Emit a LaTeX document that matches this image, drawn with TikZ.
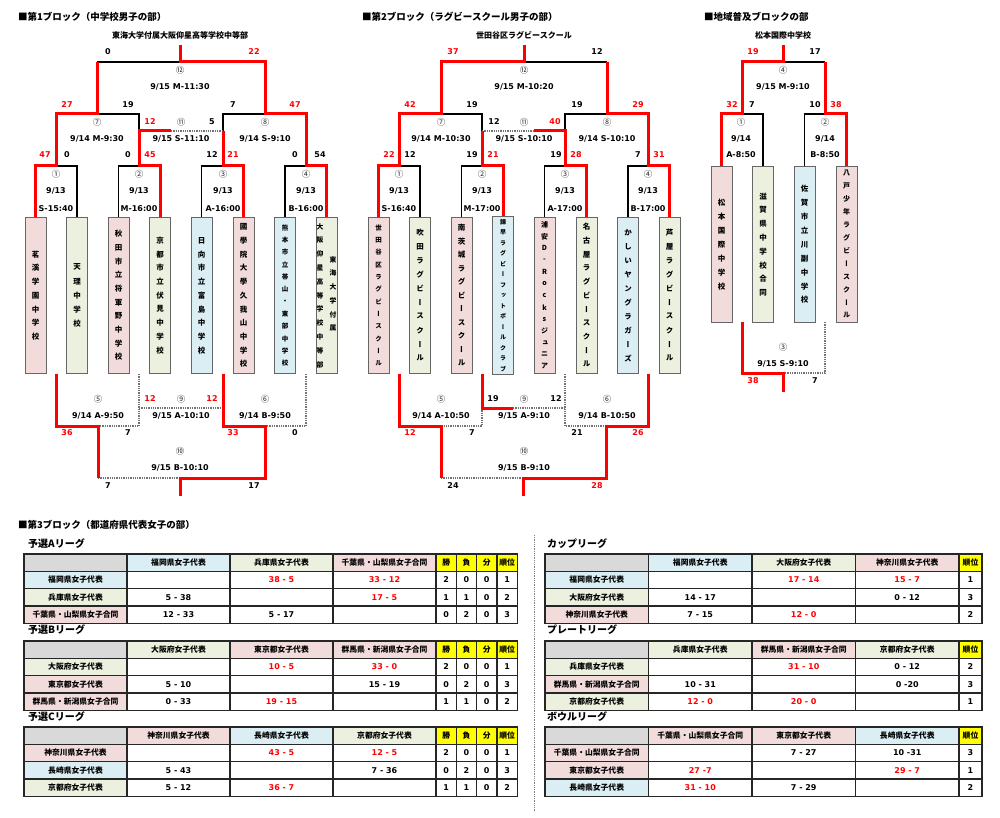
\documentclass[tikz,border=0pt]{standalone}
\usepackage{fontspec}
\setmainfont{DejaVu Sans}
\newfontfamily\jp{Noto Sans CJK JP}
\newfontfamily\jpv{Noto Sans CJK JP}[RawFeature=+vert]

\definecolor{tpink}{HTML}{F2DCDB}
\definecolor{tgreen}{HTML}{EBF1DE}
\definecolor{tblue}{HTML}{DAEEF3}
\definecolor{tgray}{HTML}{D9D9D9}
\definecolor{tyell}{HTML}{FFFF00}
\definecolor{wred}{HTML}{FF0000}

% vertical (tategaki) stack of characters
\ExplSyntaxOn
\NewDocumentCommand \vt { O{13.7pt} m }
  {
    \vbox:n
      {
        \offinterlineskip
        \tl_map_inline:nn {#2}
          {
            \hbox_to_wd:nn { 1.1em }
              { \hss \vbox_to_ht:nn {#1} { \vss \hbox:n {##1} \vss } \hss }
          }
      }
  }
\ExplSyntaxOff

\newcommand\pts[1]{{\normalfont\bfseries\fontsize{8}{9}\selectfont #1}}
\newcommand\rpts[1]{{\normalfont\bfseries\fontsize{8}{9}\selectfont\color{wred}#1}}

\tikzset{
  win/.style={draw=wred, line width=3pt, line join=miter},
  lose/.style={draw=black, line width=1.3pt},
  tie/.style={draw=black!55, line width=1.3pt, densely dotted},
  team/.style={draw=black!60, line width=1pt, minimum width=21pt, minimum height=155pt,
    inner sep=0pt, font=\jpv\bfseries\fontsize{7.5}{8}\selectfont},
  sco/.style={font=\bfseries\fontsize{8}{9}\selectfont, inner sep=0pt},
  mno/.style={font=\jp\fontsize{8.5}{9}\selectfont, inner sep=0pt, text=black!85},
  winner/.style={font=\jp\bfseries\fontsize{8}{9}\selectfont, inner sep=0pt},
  secttl/.style={font=\jp\bfseries\fontsize{9.5}{11}\selectfont, inner sep=0pt, anchor=west},
  lgttl/.style={font=\jp\bfseries\fontsize{10}{11}\selectfont, inner sep=0pt, anchor=west},
  tbox/.style={draw=black!85, line width=1.2pt},
  ctext/.style={font=\jp\bfseries\fontsize{7.8}{9}\selectfont, inner sep=0pt},
}

% one table cell: x, y, width, height, fill, text
\newcommand\tcell[6]{%
  \draw[tbox, fill=#5] (#1,#2) rectangle ++(#3,#4);
  \node[ctext] at ({#1+#3/2},{#2+#4/2}) {#6};}

% league with wins/losses/draws/rank
\newcommand\lgleft[5]{%
  \begin{scope}[shift={(24,#1)}]
    \tcell{0}{0}{103}{17.3}{tgray}{}
    \foreach \n/\f [count=\k] in {#2,#3,#4} {\tcell{103*\k}{0}{103}{17.3}{\f}{\n}}
    \foreach \n [count=\k from 0] in {勝,負,分,順位} {\tcell{412+20.3*\k}{0}{20.3}{17.3}{tyell}{\n}}
    \foreach \n/\f/\va/\vb/\vc/\nw/\nl/\nd/\nr [count=\j] in {#5} {
      \tcell{0}{17.3*\j}{103}{17.3}{\f}{\n}
      \tcell{103}{17.3*\j}{103}{17.3}{white}{\va}
      \tcell{206}{17.3*\j}{103}{17.3}{white}{\vb}
      \tcell{309}{17.3*\j}{103}{17.3}{white}{\vc}
      \foreach \v [count=\k from 0] in {\nw,\nl,\nd,\nr}
        {\tcell{412+20.3*\k}{17.3*\j}{20.3}{17.3}{white}{\pts{\v}}}
    }
  \end{scope}}

% league with rank only
\newcommand\lgright[5]{%
  \begin{scope}[shift={(545,#1)}]
    \tcell{0}{0}{103.5}{17.3}{tgray}{}
    \foreach \n/\f [count=\k] in {#2,#3,#4} {\tcell{103.5*\k}{0}{103.5}{17.3}{\f}{\n}}
    \tcell{414}{0}{23}{17.3}{tyell}{順位}
    \foreach \n/\f/\va/\vb/\vc/\nr [count=\j] in {#5} {
      \tcell{0}{17.3*\j}{103.5}{17.3}{\f}{\n}
      \tcell{103.5}{17.3*\j}{103.5}{17.3}{white}{\va}
      \tcell{207}{17.3*\j}{103.5}{17.3}{white}{\vb}
      \tcell{310.5}{17.3*\j}{103.5}{17.3}{white}{\vc}
      \tcell{414}{17.3*\j}{23}{17.3}{white}{\pts{\nr}}
    }
  \end{scope}}

\begin{document}
\begin{tikzpicture}[x=1pt,y=-1pt]
  \fill[white] (0,0) rectangle (1000,818);
  \useasboundingbox (0,0) rectangle (1000,818);

  % section titles
  \node[secttl] (h1) at (18,17) {■第1ブロック（中学校男子の部）};
  \node[secttl] (h2) at (362,17) {■第2ブロック（ラグビースクール男子の部）};
  \node[secttl] (h3) at (704,17) {■地域普及ブロックの部};
  \node[secttl] (h4) at (18,525) {■第3ブロック（都道府県代表女子の部）};

  \node[winner] (w1) at (180,35) {東海大学付属大阪仰星高等学校中等部};
  \node[winner] (w2) at (524,35) {世田谷区ラグビースクール};
  \node[winner] (w3) at (783,35) {松本国際中学校};

  % block 1
  \draw[lose] (77,218)--(77,166)--(56,166);
  \draw[lose] (118.5,218)--(118.5,166)--(139,166);
  \draw[lose] (201.5,218)--(201.5,166)--(223,166);
  \draw[lose] (285,218)--(285,166)--(306,166);
  \draw[lose] (97,114)--(139,114)--(139,131);
  \draw[lose] (223,131)--(223,114)--(265,114);
  \draw[lose] (97,62)--(180,62);
  \draw[tie] (171,131)--(223,131);
  \draw[win] (35.5,218)--(35.5,166)--(56,166)--(56,114)--(97,114)--(97,62);
  \draw[win] (160,218)--(160,166)--(139,166)--(139,131)--(171,131);
  \draw[win] (243.5,218)--(243.5,166)--(223,166)--(223,131);
  \draw[win] (326.5,218)--(326.5,166)--(306,166)--(306,114)--(265,114)--(265,62)--(180,62)--(180,45);
  \draw[tie] (139,374)--(139,426)--(98,426);
  \draw[tie] (306,374)--(306,426)--(265,426);
  \draw[tie] (139,408)--(223,408);
  \draw[tie] (98,478)--(180,478);
  \draw[win] (56,374)--(56,426)--(98,426)--(98,478);
  \draw[win] (223,374)--(223,426)--(265,426)--(265,478)--(180,478)--(180,496);

  % block 2
  \draw[lose] (420,218)--(420,166)--(399,166);
  \draw[lose] (461.5,218)--(461.5,166)--(482,166);
  \draw[lose] (544.5,218)--(544.5,166)--(565,166);
  \draw[lose] (628,218)--(628,166)--(648,166);
  \draw[lose] (441,114)--(482,114)--(482,131);
  \draw[lose] (565,131)--(565,114)--(607,114);
  \draw[lose] (524,62)--(607,62);
  \draw[tie] (482,131)--(534,131);
  \draw[win] (378.5,218)--(378.5,166)--(399,166)--(399,114)--(441,114)--(441,62)--(524,62)--(524,45);
  \draw[win] (503,218)--(503,166)--(482,166)--(482,131);
  \draw[win] (586.5,218)--(586.5,166)--(565,166)--(565,131)--(534,131);
  \draw[win] (669.5,218)--(669.5,166)--(648,166)--(648,114)--(607,114)--(607,62);
  \draw[tie] (482,408)--(482,426)--(441,426);
  \draw[tie] (565,374)--(565,426)--(606,426);
  \draw[tie] (513,408)--(565,408);
  \draw[tie] (441,478)--(523,478);
  \draw[win] (399,374)--(399,426)--(441,426)--(441,478);
  \draw[win] (482,374)--(482,408)--(513,408);
  \draw[win] (648,374)--(648,426)--(606,426)--(606,478)--(523,478)--(523,496);

  % block 3
  \draw[lose] (763,167)--(763,114)--(742,114);
  \draw[lose] (804.5,167)--(804.5,114)--(825,114);
  \draw[lose] (783,62)--(825,62);
  \draw[tie] (825,322)--(825,373)--(783,373);
  \draw[win] (721.5,167)--(721.5,114)--(742,114)--(742,62)--(783,62)--(783,45);
  \draw[win] (846.5,167)--(846.5,114)--(825,114)--(825,62);
  \draw[win] (742,322)--(742,373)--(783,373)--(783,392);

  % teams
  \node[team, fill=tpink] (a1) at (35.5,295.5) {\vt{茗溪学園中学校}};
  \node[team, fill=tgreen] (a2) at (77,295.5) {\vt[14.2pt]{天理中学校}};
  \node[team, fill=tpink] (a3) at (118.5,295.5) {\vt{秋田市立将軍野中学校}};
  \node[team, fill=tgreen] (a4) at (160,295.5) {\vt{京都市立伏見中学校}};
  \node[team, fill=tblue] (a5) at (201.5,295.5) {\vt{日向市立富島中学校}};
  \node[team, fill=tpink] (a6) at (243.5,295.5) {\vt{國學院大學久我山中学校}};
  \node[team, fill=tblue, font=\jpv\bfseries\fontsize{6.5}{7}\selectfont] (a7) at (285,295.5) {\vt[12.3pt]{熊本市立帯山・東部中学校}};
  \node[team, fill=tgreen] (a8) at (326.5,295.5) {};
  \node[font=\jpv\bfseries\fontsize{6.8}{7}\selectfont, inner sep=0pt] (a8l) at (320,295.5) {\vt[13.8pt]{大阪仰星高等学校中等部}};
  \node[font=\jpv\bfseries\fontsize{6.8}{7}\selectfont, inner sep=0pt] (a8r) at (333,294) {\vt[13.8pt]{東海大学付属}};

  \node[team, fill=tpink, font=\jpv\bfseries\fontsize{6.5}{7}\selectfont] (b1) at (378.5,295.5) {\vt[12.3pt]{世田谷区ラグビースクール}};
  \node[team, fill=tgreen] (b2) at (420,295.5) {\vt[13.9pt]{吹田ラグビースクール}};
  \node[team, fill=tpink] (b3) at (461.5,295.5) {\vt[13.5pt]{南茨城ラグビースクール}};
  \node[team, fill=tblue, font=\jpv\bfseries\fontsize{6}{7}\selectfont] (b4) at (503,295.5) {\vt[10.5pt]{諫早ラグビーフットボールクラブ}};
  \node[team, fill=tpink, font=\jpv\bfseries\fontsize{7}{7}\selectfont] (b5) at (544.5,295.5) {\vt[11.8pt]{浦安D-Rocksジュニア}};
  \node[team, fill=tgreen] (b6) at (586.5,295.5) {\vt{名古屋ラグビースクール}};
  \node[team, fill=tblue] (b7) at (628,295.5) {\vt[13.9pt]{かしいヤングラガーズ}};
  \node[team, fill=tgreen] (b8) at (669.5,295.5) {\vt[13.9pt]{芦屋ラグビースクール}};

  \node[team, fill=tpink] (c1) at (721.5,244.5) {\vt[13.9pt]{松本国際中学校}};
  \node[team, fill=tgreen] (c2) at (763,244.5) {\vt[13.8pt]{滋賀県中学校合同}};
  \node[team, fill=tblue] (c3) at (804.5,244.5) {\vt[13.9pt]{佐賀市立川副中学校}};
  \node[team, fill=tpink, font=\jpv\bfseries\fontsize{7}{7}\selectfont] (c4) at (846.5,244.5) {\vt[12.9pt]{八戸少年ラグビースクール}};

  % scores
  \foreach \x/\y/\s/\col [count=\i] in {
      108/52/0/black, 254/52/22/wred, 67/105/27/wred, 128/105/19/black, 233/105/7/black, 295/105/47/wred,
      150/122/12/wred, 212/122/5/black,
      45/155/47/wred, 67/155/0/black, 128/155/0/black, 150/155/45/wred,
      212/155/12/black, 233/155/21/wred, 295/155/0/black, 320/155/54/black,
      150/399/12/wred, 212/399/12/wred, 67/433/36/wred, 128/433/7/black, 233/433/33/wred, 295/433/0/black,
      108/486/7/black, 254/486/17/black,
      453/52/37/wred, 597/52/12/black, 410/105/42/wred, 472/105/19/black, 577/105/19/black, 638/105/29/wred,
      494/122/12/black, 555/122/40/wred,
      389/155/22/wred, 410/155/12/black, 472/155/19/black, 493/155/21/wred,
      556/155/19/black, 576/155/28/wred, 638/155/7/black, 659/155/31/wred,
      493/399/19/black, 556/399/12/black, 410/433/12/wred, 472/433/7/black, 577/433/21/black, 638/433/26/wred,
      453/486/24/black, 597/486/28/wred,
      753/52/19/wred, 815/52/17/black, 732/105/32/wred, 752/105/7/black, 815/105/10/black, 836/105/38/wred,
      753/381/38/wred, 815/381/7/black}
    \node[sco, text=\col] (sc\i) at (\x,\y) {\s};

  % match numbers
  \foreach \x/\y/\m [count=\i] in {
      180/70/⑫, 97/122/⑦, 265/122/⑧, 181/122/⑪, 56/174/①, 139/174/②, 223/174/③, 306/174/④,
      98/399/⑤, 181/399/⑨, 265/399/⑥, 180/451/⑩,
      524/70/⑫, 441/122/⑦, 607/122/⑧, 524/122/⑪, 399/174/①, 482/174/②, 565/174/③, 648/174/④,
      441/399/⑤, 524/399/⑨, 607/399/⑥, 524/451/⑩,
      783/70/④, 741/122/①, 825/122/②, 783/347/③}
    \node[mno] (mn\i) at (\x,\y) {\m};

  % dates and kick-off times
  \foreach \x/\y/\lab [count=\i] in {
      180/87/{9/15 M-11:30}, 97/139/{9/14 M-9:30}, 265/139/{9/14 S-9:10}, 181/139/{9/15 S-11:10},
      56/191/{9/13}, 56/209/{S-15:40}, 139/191/{9/13}, 139/209/{M-16:00},
      223/191/{9/13}, 223/209/{A-16:00}, 306/191/{9/13}, 306/209/{B-16:00},
      98/416/{9/14 A-9:50}, 181/416/{9/15 A-10:10}, 265/416/{9/14 B-9:50}, 180/468/{9/15 B-10:10},
      524/87/{9/15 M-10:20}, 441/139/{9/14 M-10:30}, 607/139/{9/14 S-10:10}, 524/139/{9/15 S-10:10},
      399/191/{9/13}, 399/209/{S-16:40}, 482/191/{9/13}, 482/209/{M-17:00},
      565/191/{9/13}, 565/209/{A-17:00}, 648/191/{9/13}, 648/209/{B-17:00},
      441/416/{9/14 A-10:50}, 524/416/{9/15 A-9:10}, 607/416/{9/14 B-10:50}, 524/468/{9/15 B-9:10},
      783/87/{9/15 M-9:10}, 741/139/{9/14}, 741/155/{A-8:50}, 825/139/{9/14}, 825/155/{B-8:50},
      783/364/{9/15 S-9:10}}
    \node[sco] (tm\i) at (\x,\y) {\lab};

  % block 3 leagues
  \draw[black!50, densely dotted, line width=0.8pt] (534,535) -- (534,812);
  \node[lgttl] (la) at (28,544) {予選Aリーグ};
  \node[lgttl] (lb) at (28,630) {予選Bリーグ};
  \node[lgttl] (lc) at (28,717) {予選Cリーグ};
  \node[lgttl] (ld) at (547,544) {カップリーグ};
  \node[lgttl] (le) at (547,630) {プレートリーグ};
  \node[lgttl] (lf) at (547,717) {ボウルリーグ};

  \lgleft{554}{福岡県女子代表/tblue}{兵庫県女子代表/tgreen}{千葉県・山梨県女子合同/tpink}{
    福岡県女子代表/tblue/{}/\rpts{38 - 5}/\rpts{33 - 12}/2/0/0/1,
    兵庫県女子代表/tgreen/\pts{5 - 38}/{}/\rpts{17 - 5}/1/1/0/2,
    千葉県・山梨県女子合同/tpink/\pts{12 - 33}/\pts{5 - 17}/{}/0/2/0/3}
  \lgleft{641}{大阪府女子代表/tgreen}{東京都女子代表/tpink}{群馬県・新潟県女子合同/tpink}{
    大阪府女子代表/tgreen/{}/\rpts{10 - 5}/\rpts{33 - 0}/2/0/0/1,
    東京都女子代表/tpink/\pts{5 - 10}/{}/\pts{15 - 19}/0/2/0/3,
    群馬県・新潟県女子合同/tpink/\pts{0 - 33}/\rpts{19 - 15}/{}/1/1/0/2}
  \lgleft{727}{神奈川県女子代表/tpink}{長崎県女子代表/tblue}{京都府女子代表/tgreen}{
    神奈川県女子代表/tpink/{}/\rpts{43 - 5}/\rpts{12 - 5}/2/0/0/1,
    長崎県女子代表/tblue/\pts{5 - 43}/{}/\pts{7 - 36}/0/2/0/3,
    京都府女子代表/tgreen/\pts{5 - 12}/\rpts{36 - 7}/{}/1/1/0/2}

  \lgright{554}{福岡県女子代表/tblue}{大阪府女子代表/tgreen}{神奈川県女子代表/tpink}{
    福岡県女子代表/tblue/{}/\rpts{17 - 14}/\rpts{15 - 7}/1,
    大阪府女子代表/tgreen/\pts{14 - 17}/{}/\pts{0 - 12}/3,
    神奈川県女子代表/tpink/\pts{7 - 15}/\rpts{12 - 0}/{}/2}
  \lgright{641}{兵庫県女子代表/tgreen}{群馬県・新潟県女子合同/tpink}{京都府女子代表/tgreen}{
    兵庫県女子代表/tgreen/{}/\rpts{31 - 10}/\pts{0 - 12}/2,
    群馬県・新潟県女子合同/tpink/\pts{10 - 31}/{}/\pts{0 -20}/3,
    京都府女子代表/tgreen/\rpts{12 - 0}/\rpts{20 - 0}/{}/1}
  \lgright{727}{千葉県・山梨県女子合同/tpink}{東京都女子代表/tpink}{長崎県女子代表/tblue}{
    千葉県・山梨県女子合同/tpink/{}/\pts{7 - 27}/\pts{10 -31}/3,
    東京都女子代表/tpink/\rpts{27 -7}/{}/\rpts{29 - 7}/1,
    長崎県女子代表/tblue/\rpts{31 - 10}/\pts{7 - 29}/{}/2}
\end{tikzpicture}
\end{document}
